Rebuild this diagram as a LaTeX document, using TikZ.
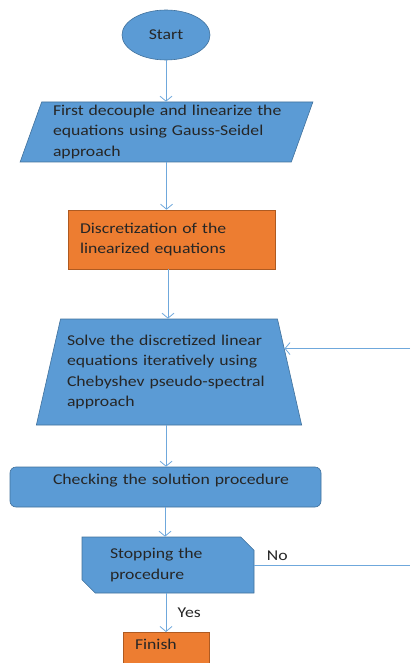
\documentclass[tikz,border=0pt]{standalone}
\usepackage{fontspec}
\setmainfont{Carlito}[FakeStretch=1.18]
\usetikzlibrary{shapes.geometric,shapes.misc,arrows.meta,calc}
\definecolor{boxblue}{HTML}{5B9BD5}
\definecolor{boxedge}{HTML}{41719C}
\definecolor{boxorange}{HTML}{ED7D31}
\definecolor{orangeedge}{HTML}{AE5A21}
\definecolor{linkblue}{HTML}{6FA8DC}

\begin{document}
\begin{tikzpicture}[x=1pt, y=-1pt,
    every node/.style={font=\fontsize{15}{20.5}\selectfont, text=black!85},
    bluebox/.style={draw=boxedge, fill=boxblue, line width=0.6pt, inner sep=0pt},
    orangebox/.style={draw=orangeedge, fill=boxorange, line width=0.6pt, inner sep=0pt},
    link/.style={draw=linkblue, line width=0.8pt, -{Straight Barb[length=5pt,width=12pt]}}]
	\useasboundingbox (0,0) rectangle (410,663);
	% Nodes
	\node[bluebox, ellipse, minimum width=88pt, minimum height=50pt] (start) at (166,35) {Start};
	\node[bluebox, trapezium, trapezium left angle=70, trapezium right angle=110, trapezium stretches=true,
	      minimum width=293pt, minimum height=60pt, text width=227pt, align=left] (decouple) at (166.5,132)
	      {\mbox{First decouple and linearize the}\\equations using Gauss-Seidel\\approach};
	\node[orangebox, rectangle, minimum width=207pt, minimum height=59pt, text width=183pt, align=left] (discr) at (171.5,239.5)
	      {Discretization of the\\linearized equations};
	\node[bluebox, trapezium, trapezium left angle=73, trapezium right angle=73, trapezium stretches=true,
	      minimum width=266pt, minimum height=106pt, text width=204pt, align=left] (solve) at (169,372)
	      {Solve the discretized linear\\equations iteratively using\\Chebyshev pseudo-spectral\\approach};
	\node[bluebox, rectangle, rounded corners=6pt, minimum width=311pt, minimum height=40pt, text width=225pt,
	      text depth=16pt, align=left] (check) at (165.5,487) {\mbox{Checking the solution procedure}};
	\node[bluebox, chamfered rectangle, chamfered rectangle corners={north east, south west}, chamfered rectangle xsep=10pt,
	      chamfered rectangle angle=45, minimum width=172pt, minimum height=56pt, text width=116pt, align=left] (stop) at (168,565)
	      {Stopping the\\procedure};
	\node[orangebox, rectangle, anchor=north, minimum width=86pt, minimum height=40pt, text width=62pt,
	      text depth=17pt, align=left] (finish) at (166,632) {Finish};
	\coordinate (rim) at (410,0);
	\coordinate (fbkend) at ($(solve.top right corner)!0.28!(solve.bottom right corner)$);

	% Edges
	\draw[link] (start.south) -- (start.south |- decouple.north);
	\draw[link] (decouple.south) -- (decouple.south |- discr.north);
	\draw[link] ([xshift=-3.5pt]discr.south) -- ([xshift=-3.5pt]discr.south |- solve.north);
	\draw[link] ([xshift=-3pt]solve.south) -- ([xshift=-3pt]solve.south |- check.north);
	\draw[link] ([xshift=-0.5pt]check.south) -- ([xshift=-0.5pt]check.south |- stop.north);
	\draw[link] ([xshift=-2pt]stop.south) -- node[right=8pt] {Yes} ([xshift=-2pt]stop.south |- finish.north);
	\draw[linkblue, line width=0.8pt] (stop.east) -- node[pos=0.05, above right=1pt] {No} (stop.east -| rim);
	\draw[link] (fbkend -| rim) -- (fbkend);
\end{tikzpicture}
\end{document}
